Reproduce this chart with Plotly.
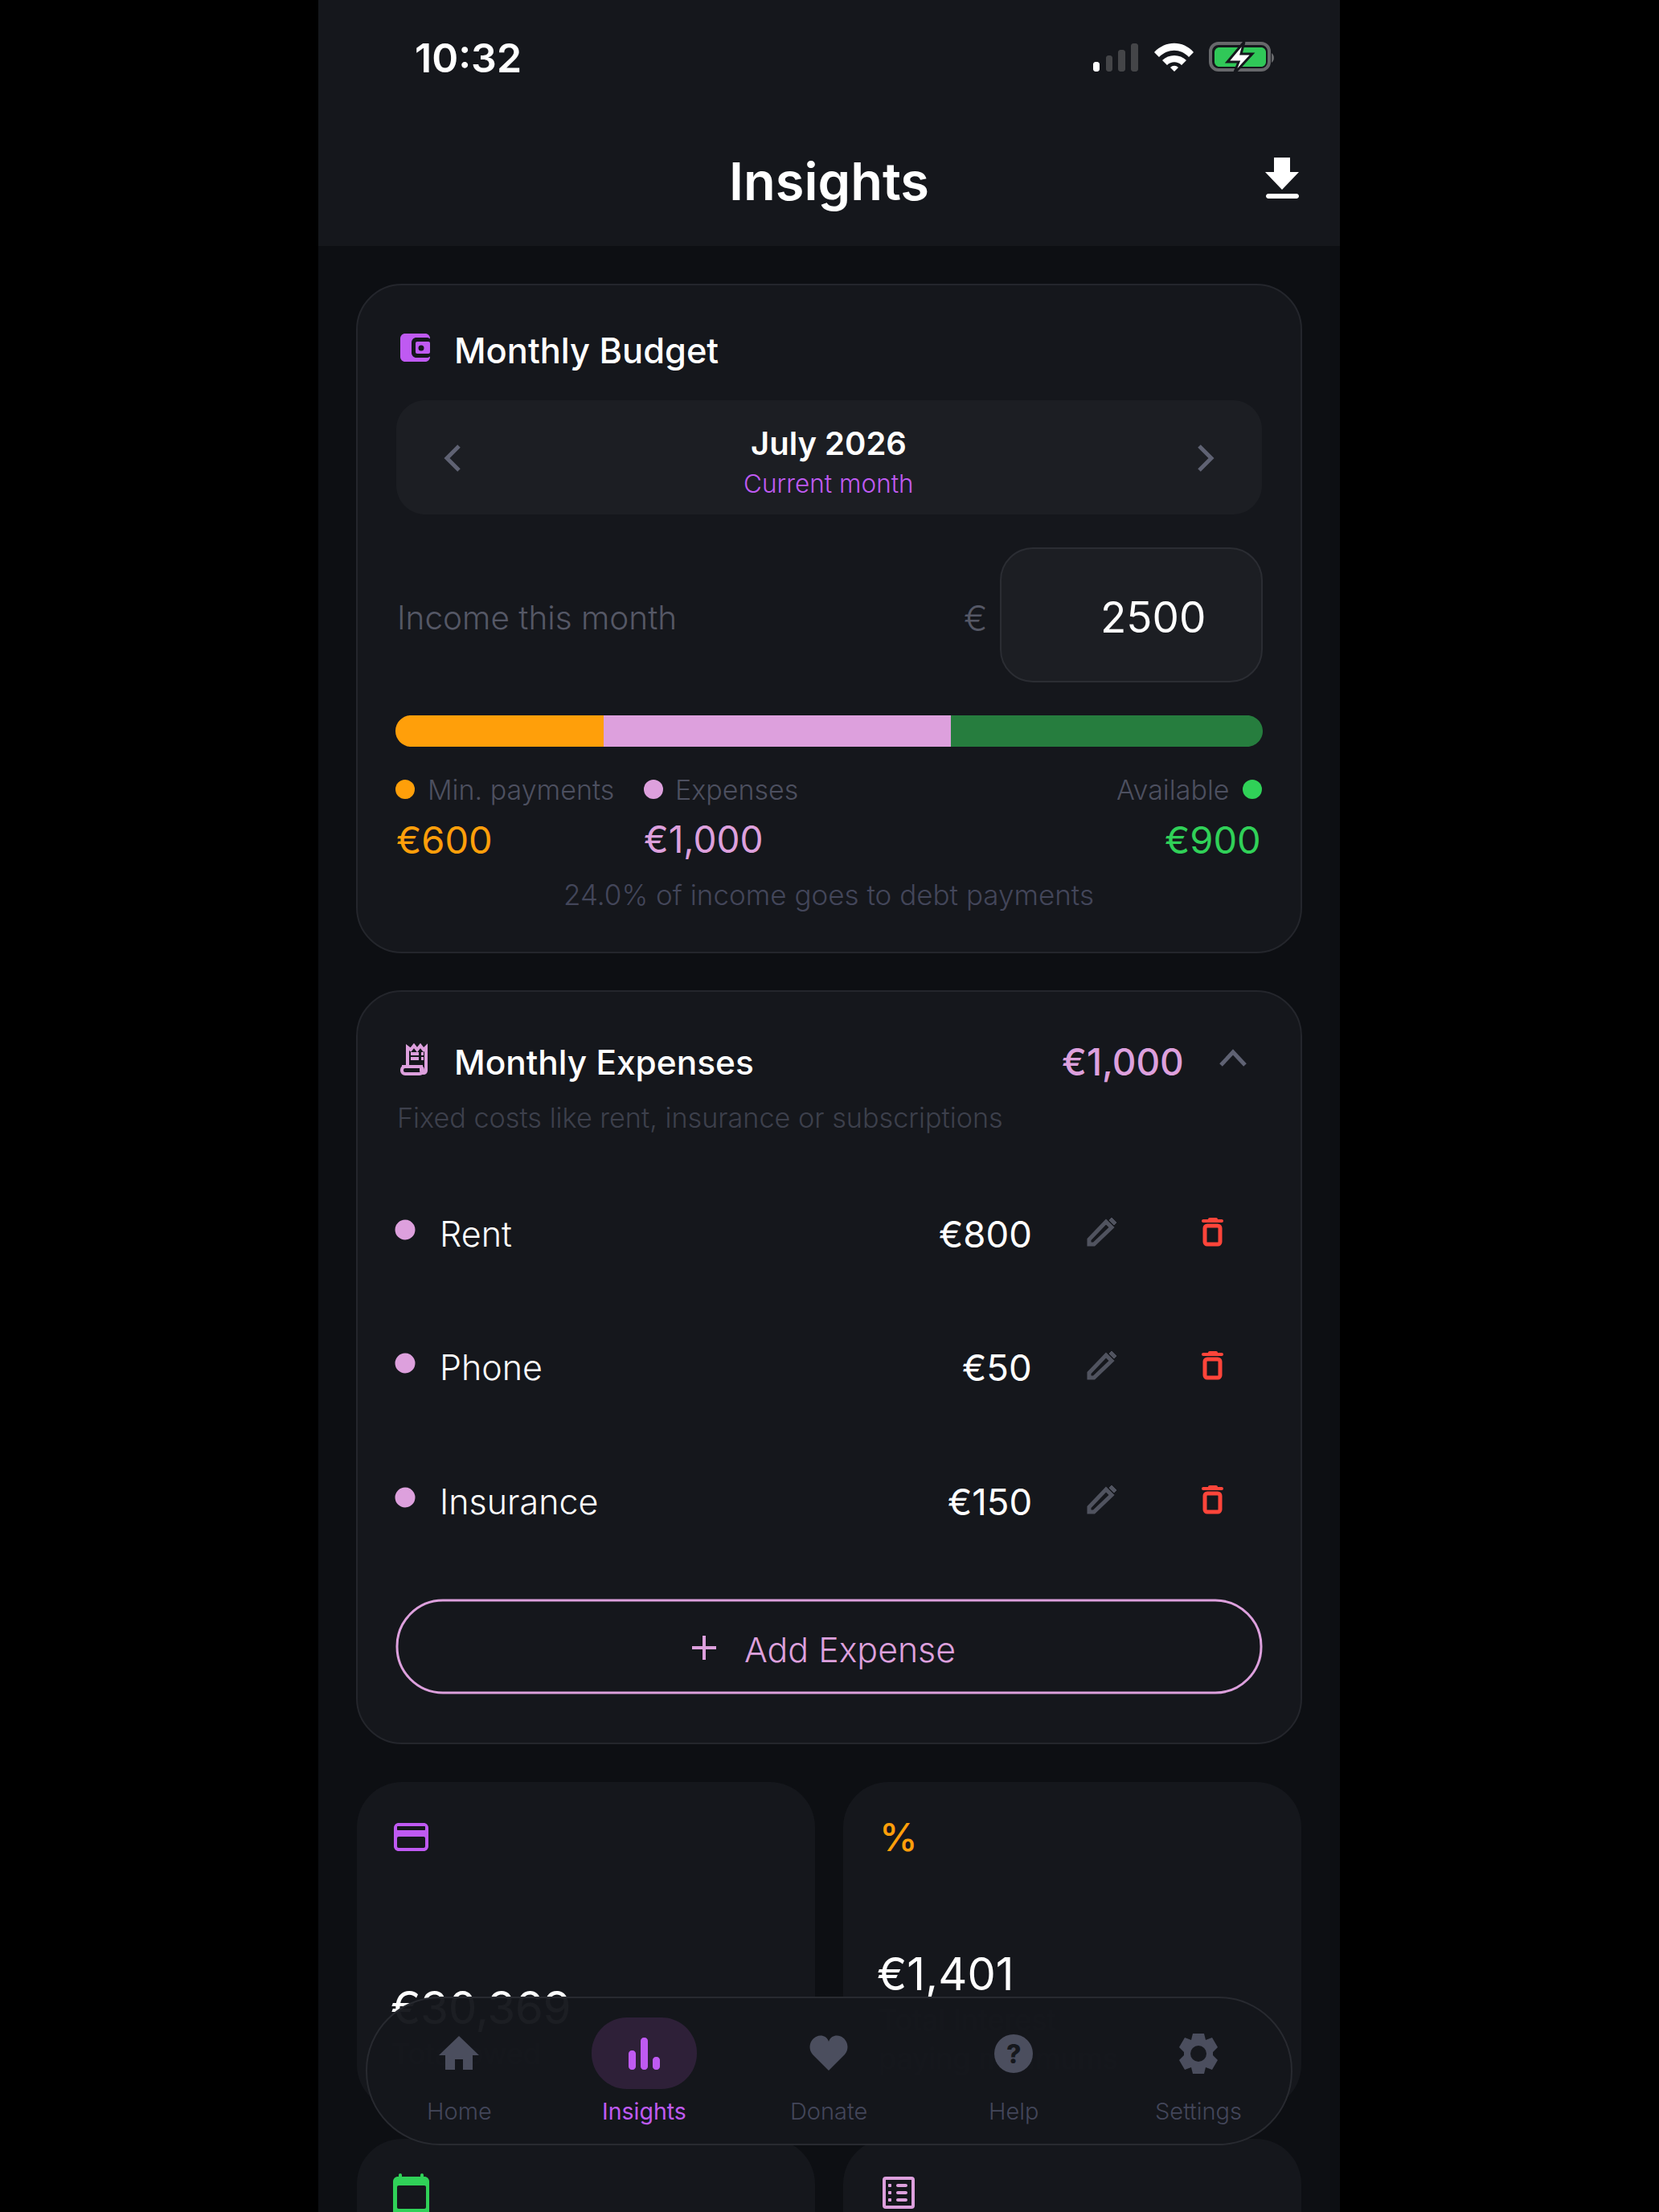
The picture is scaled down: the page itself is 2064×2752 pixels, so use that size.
import plotly.graph_objects as go

# valores
budget_labels = ["Min. payments", "Expenses", "Available"]
budget_values = [600, 1000, 900]
income = 2500
expense_names = ["Rent", "Phone", "Insurance"]
expense_values = [800, 50, 150]
nav_labels = ["Home", "Insights", "Donate", "Help", "Settings"]
total_owed = 30369
total_interest = 1401

FONT = "Inter"
WHITE = "#ffffff"
PURPLE = "#bf5af2"
ORANGE = "#ff9f0a"
PLUM = "#dda0dd"
GREEN = "#30d158"
BAR_GREEN = "#267d3e"
RED = "#ff453a"
GREY = "#555866"
GREY2 = "#4d5060"
GREY3 = "#43465a"
CARD = "#15171c"
PAGE = "#0d0f13"
PANEL = "#1c1e23"
EDGE = "#24262c"
NAV_ICON = "#4b4e5e"

shapes = []
notes = []


def rr(x0, y0, x1, y1, r):
    k = r * 0.45
    return (f"M{x0+r},{y0} L{x1-r},{y0} C{x1-k},{y0} {x1},{y0+k} {x1},{y0+r} "
            f"L{x1},{y1-r} C{x1},{y1-k} {x1-k},{y1} {x1-r},{y1} "
            f"L{x0+r},{y1} C{x0+k},{y1} {x0},{y1-k} {x0},{y1-r} "
            f"L{x0},{y0+r} C{x0},{y0+k} {x0+k},{y0} {x0+r},{y0} Z")


def box(x0, y0, x1, y1, r, fill, line=None, width=2, layer="below"):
    shapes.append(dict(type="path", path=rr(x0, y0, x1, y1, r), fillcolor=fill,
                       line=dict(color=line or fill, width=width if line else 0),
                       layer=layer, xref="x", yref="y"))


def path(d, fill="rgba(0,0,0,0)", line=None, width=0, layer="below"):
    shapes.append(dict(type="path", path=d, fillcolor=fill,
                       line=dict(color=line or "rgba(0,0,0,0)", width=width),
                       layer=layer, xref="x", yref="y"))


def dot(x, y, r, fill, layer="below"):
    shapes.append(dict(type="circle", x0=x-r, x1=x+r, y0=y-r, y1=y+r, fillcolor=fill,
                       line=dict(width=0), layer=layer, xref="x", yref="y"))


def text(x, y, s, size, color, anchor="left", weight=400, family=FONT):
    notes.append(dict(x=x, y=y, text=s, showarrow=False, xanchor=anchor, yanchor="middle",
                      xref="x", yref="y", borderpad=0,
                      font=dict(family=family, size=size, color=color, weight=weight)))


# fondo
box(396, 0, 1667, 2752, 0, PAGE)
box(396, 0, 1667, 306, 0, CARD)

# barra de estado
text(582, 72, "10:32", 50, WHITE, "center", 600)
box(1360, 77, 1368, 89, 3, WHITE)
box(1376, 69, 1384, 89, 3, "#444548")
box(1391, 62, 1400, 89, 3, "#444548")
box(1407, 54, 1416, 89, 3, "#444548")
path("M1436,65 C1450,50 1472,50 1485,65 L1479,71 C1469,60 1453,60 1442,71 Z", WHITE)
path("M1446,75 C1454,67 1468,67 1476,75 L1470,81 C1465,76 1457,76 1452,81 Z", WHITE)
path("M1456,84 C1459,81 1463,81 1466,84 L1461,89 Z", WHITE)
box(1506, 54, 1579, 87, 10, "rgba(0,0,0,0)", "#67686b", 4)
box(1511, 59, 1575, 83, 6, "#30c858")
path("M1582,66 C1586,69 1586,75 1582,78 Z", "#67686b")
path("M1548,52 L1527,77 L1541,77 L1535,92 L1558,67 L1544,67 Z", WHITE, CARD, 3)

# cabecera
text(1031, 225, "Insights", 65, WHITE, "center", 600)
path("M1585,196 L1605,196 L1605,214 L1616,214 L1595,236 L1574,214 L1585,214 Z", WHITE)
box(1575, 241, 1616, 247, 3, WHITE)

# tarjeta presupuesto
box(444, 354, 1619, 1185, 56, CARD, EDGE)
box(498, 415, 535, 450, 6, PURPLE)
box(512, 420, 537, 445, 6, CARD)
box(517, 425, 535, 440, 2, PURPLE)
dot(524, 433, 3.5, CARD)
text(564, 436, "Monthly Budget", 43.4, WHITE, weight=500)

box(493, 498, 1570, 640, 36, PANEL)
text(1031, 551, "July 2026", 40, WHITE, "center", 600)
text(1031, 601, "Current month", 31.5, PURPLE, "center", 300)
path("M571,555 L556,570 L571,585", line="#5f6273", width=5)
path("M1492,555 L1507,570 L1492,585", line="#5f6273", width=5)

text(493, 768, "Income this month", 40.5, GREY, weight=300)
text(1214, 769, "€", 44, GREY, "center", 300)
box(1245, 682, 1570, 848, 40, PANEL, "#2b2d33")
text(1501, 768, str(income), 53, WHITE, "right", 400)

text(531, 982, budget_labels[0], 34, GREY2, weight=300)
dot(504, 982, 12, ORANGE)
text(839, 982, budget_labels[1], 34, GREY2, weight=300)
dot(813, 982, 12, PLUM)
text(1531, 982, budget_labels[2], 34, GREY2, "right", 300)
dot(1558, 982, 12, GREEN)
text(492, 1044, f"€{budget_values[0]:,}", 47, ORANGE, weight=400)
text(800, 1044, f"€{budget_values[1]:,}", 46, PLUM, weight=400)
text(1570, 1044, f"€{budget_values[2]:,}", 47, GREEN, "right", 400)
share = budget_values[0] / income * 100
text(1031, 1113, f"{share:.1f}% of income goes to debt payments", 35, GREY3, "center", 300)

# esquinas redondeadas de la barra (tapan la barra por encima)
for cx, sx in [(492, 1), (1571, -1)]:
    for cy, sy in [(890, 1), (929, -1)]:
        r = 19
        path(f"M{cx},{cy} L{cx+sx*r},{cy} C{cx+sx*9},{cy} {cx},{cy+sy*9} {cx},{cy+sy*r} Z",
             CARD, layer="above")

# tarjeta gastos
box(444, 1233, 1619, 2169, 56, CARD, EDGE)
path("M507,1328 L507,1303 L511,1306 L515,1301 L519,1306 L523,1301 L527,1306 L530,1303 L530,1332 C530,1336 524,1336 524,1332 L524,1327 L500,1327",
     line=PLUM, width=4)
box(500, 1327, 526, 1336, 4, "rgba(0,0,0,0)", PLUM, 4)
path("M511,1311 L521,1311 M511,1317 L521,1317 M524,1311 L527,1311 M524,1317 L527,1317", line=PLUM, width=4)
text(564, 1321, "Monthly Expenses", 42.4, WHITE, weight=500)
text(1474, 1321, f"€{sum(expense_values):,}", 46, PLUM, "right", 500)
path("M1519,1325 L1534,1309 L1549,1325", line="#5f6273", width=5)
text(493, 1390, "Fixed costs like rent, insurance or subscriptions", 34.2, "#3d404c", weight=300)

row_y = [1535, 1701, 1868]
for name, value, y in zip(expense_names, expense_values, row_y):
    dot(504, y-5, 12.5, PLUM)
    text(546, y, name, 43, WHITE, weight=300)
    text(1285, y, f"€{value:,}", 45.5, WHITE, "right", 400)
    # lapiz
    path(f"M1355,{y+13} L1355,{y+7} L1376,{y-15} L1383,{y-8} L1361,{y+13} Z", line="#50535f", width=5)
    path(f"M1380,{y-17} L1383,{y-20} L1389,{y-14} L1386,{y-11} Z", "#50535f", line="#50535f", width=1)
    # papelera
    box(1499, y-10, 1518, y+13, 3, "rgba(0,0,0,0)", RED, 5)
    box(1495, y-18, 1522, y-14, 2, RED)
    box(1503, y-20, 1515, y-16, 2, RED)

box(494, 1991, 1569, 2106, 57, "rgba(0,0,0,0)", PLUM, 3)
path("M861,2050 L891,2050 M876,2035 L876,2065", line=PLUM, width=4)
text(925, 2052, "Add Expense", 42.8, PLUM, weight=300)

# tarjetas inferiores
box(444, 2217, 1014, 2625, 56, CARD)
box(1049, 2217, 1619, 2625, 56, CARD)
box(444, 2661, 1014, 2900, 56, CARD)
box(1049, 2661, 1619, 2900, 56, CARD)
box(490, 2268, 533, 2303, 6, PURPLE)
box(494, 2272, 529, 2277, 1, CARD)
box(494, 2285, 529, 2299, 2, CARD)
text(1118, 2285, "%", 48, ORANGE, "center", 500)
box(489, 2708, 534, 2770, 6, GREEN)
box(494, 2719, 530, 2748, 2, CARD)
box(496, 2704, 500, 2712, 2, GREEN)
box(523, 2704, 527, 2712, 2, GREEN)
box(1100, 2710, 1136, 2746, 2, "rgba(0,0,0,0)", PLUM, 4)
for y in [2719, 2728, 2737]:
    box(1105, y-2, 1109, y+2, 1, PLUM)
    box(1115, y-2, 1129, y+2, 2, PLUM)

# barra inferior, tapa el texto que pasa por debajo
box(456, 2485, 1607, 2668, 91, "rgba(21,23,28,0.97)", "#282a30", 2, layer="above")
box(736, 2510, 867, 2599, 44, "#2e2038", layer="above")
nav_x = [571, 801, 1031, 1261, 1491]
for name, x in zip(nav_labels, nav_x):
    text(x, 2626, name, 28.5 if name == "Insights" else 29, PURPLE if name == "Insights" else "#43465a",
         "center", 300 if name != "Insights" else 400)

path("M571,2533 L596,2557 L588,2557 L588,2575 L576,2575 L576,2562 L566,2562 L566,2575 L554,2575 L554,2557 L546,2557 Z",
     NAV_ICON, layer="above")
box(782, 2551, 791, 2575, 4, PURPLE, layer="above")
box(797, 2535, 806, 2575, 4, PURPLE, layer="above")
box(812, 2559, 821, 2575, 4, PURPLE, layer="above")
path("M1031,2576 L1011,2556 C1002,2545 1012,2530 1024,2533 C1028,2534 1030,2537 1031,2540 "
     "C1032,2537 1034,2534 1038,2533 C1050,2530 1060,2545 1051,2556 Z", NAV_ICON, layer="above")
dot(1261, 2555, 24, NAV_ICON, layer="above")
text(1261, 2555, "?", 32, "#16181d", "center", 800)
path("M1491,2530 L1498,2530 L1500,2538 L1508,2535 L1515,2547 L1509,2553 L1509,2557 L1515,2563 "
     "L1508,2575 L1500,2572 L1498,2580 L1484,2580 L1482,2572 L1474,2575 L1467,2563 L1473,2557 "
     "L1473,2553 L1467,2547 L1474,2535 L1482,2538 L1484,2530 Z", NAV_ICON, layer="above")
dot(1491, 2555, 10, "#16181d", layer="above")

fig = go.Figure()

# textos que quedan por debajo de la barra inferior
under_x = [486, 487, 1091, 1093, 1093]
under_y = [2504, 2559, 2462, 2517, 2565]
under_text = [f"€{total_owed:,}", "Total owed", f"€{total_interest:,}", "Total Interest", "paying minimums"]
under_size = [56, 36, 56, 36, 36]
under_color = [WHITE, "#2a2c36", WHITE, "#2a2c36", "#2a2c36"]
fig.add_trace(go.Scatter(x=under_x, y=under_y, text=under_text, mode="text", textposition="middle right",
                         textfont=dict(family=FONT, size=under_size, color=under_color, weight=400),
                         hoverinfo="skip", showlegend=False))

# barra apilada del presupuesto
bar_colors = [ORANGE, PLUM, BAR_GREEN]
for label, value, color in zip(budget_labels, budget_values, bar_colors):
    fig.add_trace(go.Bar(x=[value], y=["budget"], name=label, orientation="h",
                         marker=dict(color=color, line=dict(width=0)),
                         xaxis="x2", yaxis="y2", hoverinfo="skip", showlegend=False))

fig.update_layout(
    width=2064, height=2752, margin=dict(l=0, r=0, t=0, b=0),
    paper_bgcolor="#000000", plot_bgcolor="#000000",
    barmode="stack", bargap=0, showlegend=False,
    xaxis=dict(range=[0, 2064], visible=False, fixedrange=True),
    yaxis=dict(range=[2752, 0], visible=False, fixedrange=True),
    xaxis2=dict(range=[0, income], domain=[492/2064, 1571/2064], anchor="y2", visible=False, fixedrange=True),
    yaxis2=dict(domain=[1-929/2752, 1-890/2752], anchor="x2", visible=False, fixedrange=True),
    shapes=shapes, annotations=notes,
)

fig.write_html("out.html", config=dict(displayModeBar=False),
               post_script="document.body.style.margin='0';")
